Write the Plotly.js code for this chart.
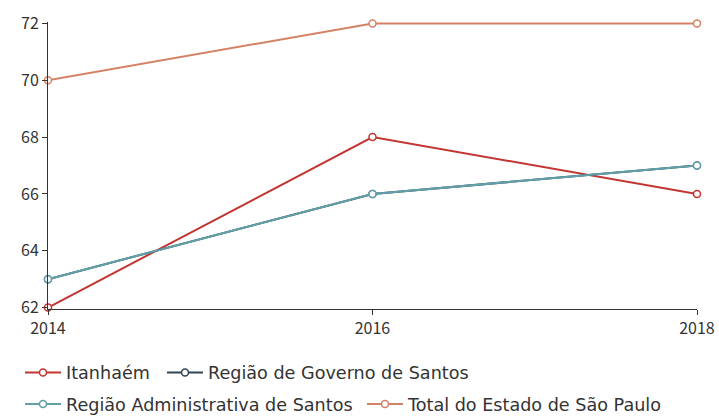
<!DOCTYPE html>
<html><head><meta charset="utf-8">
<script src="https://cdn.plot.ly/plotly-3.0.1.min.js"></script>
<style>html,body{margin:0;padding:0;background:#fff}</style>
</head><body><div id="chart" style="width:719px;height:416px"></div>
<script>
var years = [2014, 2016, 2018];
var itanhaem = [62, 68, 66];
var regGoverno = [63, 66, 67];
var regAdmin = [63, 66, 67];
var totalSP = [70, 72, 72];
var names = ["Itanhaém", "Região de Governo de Santos", "Região Administrativa de Santos", "Total do Estado de São Paulo"];
var colors = ["#c23531", "#2f4554", "#61a0a8", "#d48265"];
var series = [itanhaem, regGoverno, regAdmin, totalSP];
var legendIds = ['legend', 'legend2', 'legend3', 'legend4'];
var traces = names.map(function(n, i){
  return {x: years, y: series[i], name: n, type: 'scatter', mode: 'lines+markers',
    legend: legendIds[i],
    line: {color: colors[i], width: 2},
    marker: {symbol: 'circle', size: 7, color: '#fff', line: {color: colors[i], width: 1.5}},
    cliponaxis: false};
});
var tickFont = "'Noto Sans CJK SC', 'DejaVu Sans', sans-serif";
var legFont = "'DejaVu Sans', sans-serif";
function leg(xpx, ytop) {
  return {orientation: 'h', xref: 'container', yref: 'container', xanchor: 'left', yanchor: 'top',
    x: xpx / 719, y: 1 - ytop / 416,
    font: {family: legFont, size: 17.6, color: '#333'}, itemwidth: 36, bgcolor: 'rgba(0,0,0,0)'};
}
var layout = {
  width: 719, height: 416,
  margin: {l: 48, r: 22, t: 21.6, b: 106.6},
  paper_bgcolor: '#fff', plot_bgcolor: '#fff',
  font: {family: tickFont, size: 16, color: '#333'},
  showlegend: true,
  xaxis: {range: [2014, 2018], tickvals: years, ticktext: years.map(String), showgrid: false, zeroline: false,
    showline: true, linecolor: '#333', linewidth: 1, ticks: 'outside', ticklen: 5, tickcolor: '#333',
    tickfont: {family: tickFont, size: 16, color: '#333'}, automargin: false},
  yaxis: {range: [61.95, 72.05], tickvals: [62, 64, 66, 68, 70, 72], showgrid: false, zeroline: false,
    showline: true, linecolor: '#333', linewidth: 1, ticks: 'outside', ticklen: 5, tickcolor: '#333',
    tickfont: {family: tickFont, size: 16, color: '#333'}, automargin: false},
  legend: leg(20, 354.5),
  legend2: leg(162, 354.5),
  legend3: leg(20, 386),
  legend4: leg(362, 386)
};
Plotly.newPlot('chart', traces, layout, {displayModeBar: false, staticPlot: true});
</script></body></html>
